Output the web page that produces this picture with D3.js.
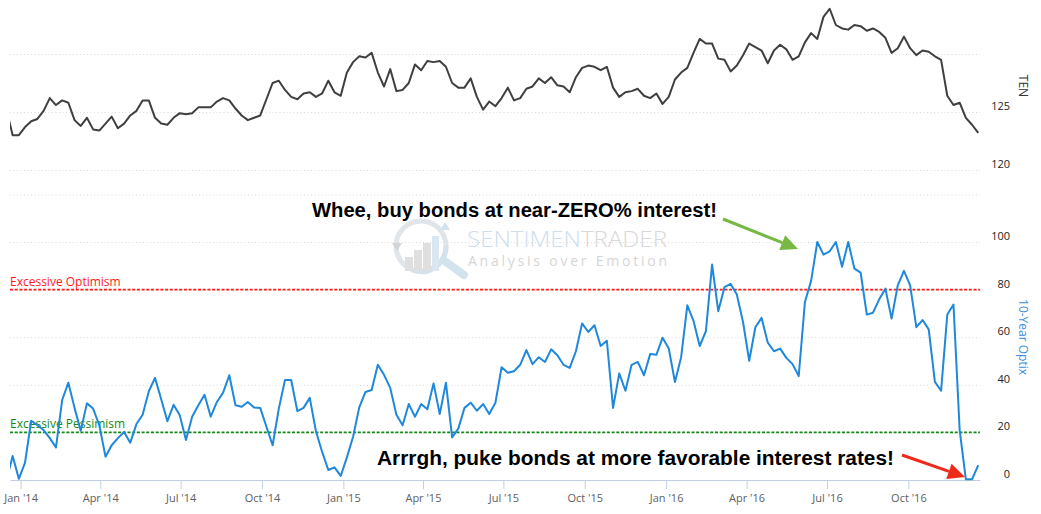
<!DOCTYPE html>
<html>
<head>
<meta http-equiv="Content-Type" content="text/html; charset=utf-8" />
<script src="https://cdn.jsdelivr.net/npm/d3@7/dist/d3.min.js"></script>
<title>TEN vs 10-Year Optix</title>
<style>
  body { margin: 0; background: #fff; }
  text { font-family: "Open Sans", "DejaVu Sans", sans-serif; }
  text.note { font-family: "Liberation Sans", Arial, sans-serif; font-weight: bold; }
</style>
</head>
<body>
<svg width="1041" height="514" id="mainsvg"></svg>
<script>
// weekly readings, first week starts 2013-12-16
const firstWeek = Date.UTC(2013, 11, 16);
const tenValues = [
  125.2, 123.0, 123.0, 123.7, 124.2, 124.4, 125.1, 126.2, 125.6, 126.0,
  125.8, 124.3, 123.8, 124.5, 123.5, 123.4, 124.0, 124.6, 123.6, 124.0,
  124.7, 125.1, 126.0, 126.0, 124.5, 124.0, 123.9, 124.5, 124.9, 124.8,
  124.9, 125.4, 125.4, 125.4, 125.9, 126.2, 126.0, 125.3, 124.7, 124.3,
  124.5, 124.7, 126.1, 127.5, 127.7, 126.9, 126.3, 126.1, 126.6, 126.7,
  126.3, 126.6, 127.7, 126.7, 126.4, 128.4, 129.3, 129.8, 129.7, 130.1,
  128.4, 127.2, 128.7, 126.8, 126.9, 127.5, 129.1, 128.6, 129.4, 129.3,
  129.4, 128.9, 127.5, 127.1, 127.1, 127.9, 126.3, 125.2, 125.9, 125.5,
  126.2, 127.1, 126.0, 126.2, 127.0, 127.2, 127.9, 127.5, 128.0, 127.3,
  127.2, 126.7, 128.0, 128.8, 129.0, 128.9, 128.6, 128.9, 127.1, 126.3,
  126.7, 126.8, 127.0, 126.4, 126.2, 126.6, 125.7, 126.3, 127.8, 128.4,
  128.8, 130.1, 131.3, 130.9, 130.9, 129.6, 129.5, 128.5, 129.0, 129.9,
  130.9, 130.6, 130.3, 129.2, 130.3, 130.8, 130.4, 129.5, 129.8, 131.0,
  131.8, 131.3, 133.2, 133.9, 132.5, 132.2, 132.1, 132.5, 132.4, 132.0,
  132.2, 131.9, 131.4, 130.1, 130.5, 131.5, 130.5, 129.9, 130.3, 130.2,
  129.8, 129.5, 126.4, 125.6, 125.8, 124.5, 123.9, 123.2
];
const optixValues = [
  0, 10.1, 0.5, 7.3, 24.9, 23.0, 21.0, 17.6, 13.7, 33.6,
  40.9, 30.3, 20.7, 32.2, 30.0, 23.0, 9.8, 14.6, 17.6, 20.2,
  15.7, 23.5, 27.4, 37.3, 42.9, 33.9, 24.7, 31.6, 27.2, 16.8,
  26.6, 31.4, 35.8, 26.6, 32.8, 36.7, 44.0, 31.4, 30.8, 32.8,
  30.5, 30.3, 22.4, 14.6, 30.0, 42.0, 42.0, 28.9, 30.3, 34.5,
  20.5, 11.8, 4.2, 5.3, 1.7, 9.5, 18.2, 30.5, 37.0, 37.8,
  48.4, 44.2, 38.7, 27.4, 23.0, 31.9, 26.6, 31.9, 29.7, 40.6,
  27.7, 40.9, 17.9, 21.6, 30.3, 32.5, 29.1, 31.9, 27.7, 32.5,
  47.4, 45.1, 45.7, 48.4, 54.6, 48.7, 51.6, 49.6, 54.9, 52.4,
  48.4, 47.1, 54.1, 65.8, 62.2, 65.0, 56.3, 58.5, 30.3, 44.8,
  37.5, 48.4, 49.6, 44.0, 52.9, 52.6, 59.8, 55.3, 41.2, 51.6,
  73.4, 66.9, 56.3, 62.5, 90.5, 70.9, 81.0, 82.4, 77.9, 66.4,
  50.1, 64.2, 68.1, 57.7, 54.1, 55.2, 51.3, 48.7, 43.7, 74.8,
  83.7, 100, 94.7, 96.1, 100, 89.6, 100, 88.8, 87.1, 69.5,
  70.3, 75.9, 80.4, 67.8, 81.8, 87.9, 81.8, 64.2, 67.2, 63.3,
  41.2, 37.5, 69.5, 73.7, 21.0, 0.3, 0.3, 6.2
];
const tenTicks = [120, 125, 130];
const tenLabels = [120, 125];
const optixTicks = [0, 20, 40, 60, 80, 100, 120];
const optixLabels = [0, 20, 40, 60, 80, 100];
const bands = [
  {name: "Excessive Optimism", value: 80, color: "#ff1a1a"},
  {name: "Excessive Pessimism", value: 20, color: "#138a13"}
];

const weeks = tenValues.map((d, i) => new Date(firstWeek + i * 7 * 864e5));

let svg = d3.select("#mainsvg");
const left = 10, right = 980;

const x = d3.scaleUtc()
  .domain([new Date(Date.UTC(2013, 11, 20)), new Date(Date.UTC(2016, 11, 21))])
  .range([left, right]);
const yTen = d3.scaleLinear().domain([120, 125]).range([170, 112]);
const yOpt = d3.scaleLinear().domain([0, 100]).range([480, 242]);

svg.append("defs").append("clipPath").attr("id", "plotclip")
  .append("rect").attr("x", left).attr("y", 0).attr("width", right - left).attr("height", 490);

// grid lines
const grid = svg.append("g").attr("stroke", "#d9d9d9").attr("stroke-dasharray", "1,2.5");
grid.selectAll(".gten").data(tenTicks).join("line").attr("class", "gten")
  .attr("x1", left).attr("x2", right)
  .attr("y1", d => yTen(d) + 0.5).attr("y2", d => yTen(d) + 0.5);
grid.selectAll(".gopt").data(optixTicks.filter(d => d > 0)).join("line").attr("class", "gopt")
  .attr("x1", left).attr("x2", right)
  .attr("y1", d => yOpt(d) + 0.5).attr("y2", d => yOpt(d) + 0.5);

// watermark
const wm = svg.append("g").attr("opacity", 0.9);
wm.append("line").attr("x1", 446).attr("y1", 262).attr("x2", 464).attr("y2", 275)
  .attr("stroke", "#cfe0ec").attr("stroke-width", 8).attr("stroke-linecap", "round");
wm.append("circle").attr("cx", 421).attr("cy", 246).attr("r", 25)
  .attr("fill", "none").attr("stroke", "#dde3e8").attr("stroke-width", 5);
wm.append("path").attr("d", "M 446 246 A 25 25 0 0 1 412 270")
  .attr("fill", "none").attr("stroke", "#cfe0ec").attr("stroke-width", 5);
wm.selectAll(".wbar").data([[405, 257, 8], [414, 250, 8], [423, 243, 8], [432, 236, 7]]).join("rect")
  .attr("class", "wbar").attr("x", d => d[0]).attr("y", d => d[1]).attr("width", d => d[2])
  .attr("height", d => 271 - d[1]).attr("fill", (d, i) => i === 3 ? "#d6e4ef" : "#dcdcdc");
wm.append("path").attr("d", "M 392 243 l 5 8 l 5 -8 z").attr("fill", "#d0d0d0");
wm.append("path").attr("d", "M 440 230 l 5 -8 l 5 8 z").attr("fill", "#cfe0ec");
const wt = wm.append("text").attr("x", 467).attr("y", 247).attr("font-size", 22)
  .attr("font-weight", 300).attr("textLength", 200).attr("lengthAdjust", "spacingAndGlyphs");
wt.append("tspan").attr("fill", "#c9dbea").text("SENTIMEN");
wt.append("tspan").attr("fill", "#d4d4d4").text("TRADER");
wm.append("text").attr("x", 468).attr("y", 266).attr("font-size", 14).attr("fill", "#d2d2d2")
  .attr("textLength", 199).attr("lengthAdjust", "spacing").text("Analysis over Emotion");

// plot bands (dashed)
svg.selectAll(".band").data(bands).join("line").attr("class", "band")
  .attr("x1", left).attr("x2", right)
  .attr("y1", d => yOpt(d.value)).attr("y2", d => yOpt(d.value))
  .attr("stroke", d => d.color).attr("stroke-width", 1.6).attr("stroke-dasharray", "3,1.7");
svg.selectAll(".bandtext").data(bands).join("text").attr("class", "bandtext")
  .attr("x", left).attr("y", d => yOpt(d.value) - 4)
  .attr("font-size", 12).attr("fill", d => d.color).text(d => d.name);

// x axis
const xAxis = svg.append("g").attr("transform", "translate(0,480)")
  .call(d3.axisBottom(x).ticks(d3.utcMonth.every(3)).tickFormat(d3.utcFormat("%b '%y")).tickSizeInner(9).tickSizeOuter(0).tickPadding(5));
xAxis.select(".domain").attr("stroke", "#c0d0e0");
xAxis.selectAll(".tick line").attr("stroke", "#c0d0e0");
xAxis.selectAll(".tick text").attr("font-size", 11).attr("fill", "#606060");

// lines
const plot = svg.append("g").attr("clip-path", "url(#plotclip)");
plot.append("path").datum(tenValues)
  .attr("fill", "none").attr("stroke", "#3f3f3f").attr("stroke-width", 2)
  .attr("stroke-linejoin", "round")
  .attr("d", d3.line().x((d, i) => x(weeks[i])).y(d => yTen(d)));
plot.append("path").datum(optixValues)
  .attr("fill", "none").attr("stroke", "#1f88db").attr("stroke-width", 2)
  .attr("stroke-linejoin", "round")
  .attr("d", d3.line().x((d, i) => x(weeks[i])).y(d => yOpt(d)));

// right axes labels
svg.selectAll(".lten").data(tenLabels).join("text").attr("class", "lten")
  .attr("x", 1010).attr("y", d => yTen(d) - 2).attr("text-anchor", "end")
  .attr("font-size", 11).attr("fill", "#222").text(d => d);
svg.selectAll(".lopt").data(optixLabels).join("text").attr("class", "lopt")
  .attr("x", 1010).attr("y", d => yOpt(d) - 2).attr("text-anchor", "end")
  .attr("font-size", 11).attr("fill", "#222").text(d => d);
svg.append("text").attr("transform", "translate(1019,86) rotate(90)")
  .attr("text-anchor", "middle").attr("font-size", 12).attr("fill", "#333").text("TEN");
svg.append("text").attr("transform", "translate(1019,337) rotate(90)")
  .attr("text-anchor", "middle").attr("font-size", 12).attr("fill", "#3a8fd9").text("10-Year Optix");

// annotations
function arrow(x1, y1, x2, y2, color) {
  const a = Math.atan2(y2 - y1, x2 - x1), L = 17, W = 8;
  const bx = x2 - L * Math.cos(a), by = y2 - L * Math.sin(a);
  svg.append("line").attr("x1", x1).attr("y1", y1).attr("x2", bx).attr("y2", by)
    .attr("stroke", color).attr("stroke-width", 3);
  svg.append("path").attr("fill", color)
    .attr("d", `M${x2},${y2} L${bx - W * Math.sin(a)},${by + W * Math.cos(a)} L${bx + W * Math.sin(a)},${by - W * Math.cos(a)} Z`);
}
svg.append("text").attr("class", "note").attr("x", 312).attr("y", 217)
  .attr("font-size", 20).attr("fill", "#000")
  .attr("textLength", 405).attr("lengthAdjust", "spacingAndGlyphs")
  .text("Whee, buy bonds at near-ZERO% interest!");
arrow(723, 219, 798, 249, "#77b844");
svg.append("text").attr("class", "note").attr("x", 377).attr("y", 465)
  .attr("font-size", 20).attr("fill", "#000")
  .attr("textLength", 517).attr("lengthAdjust", "spacingAndGlyphs")
  .text("Arrrgh, puke bonds at more favorable interest rates!");
arrow(902, 455, 965, 477, "#ee2a1b");
</script>
</body>
</html>
